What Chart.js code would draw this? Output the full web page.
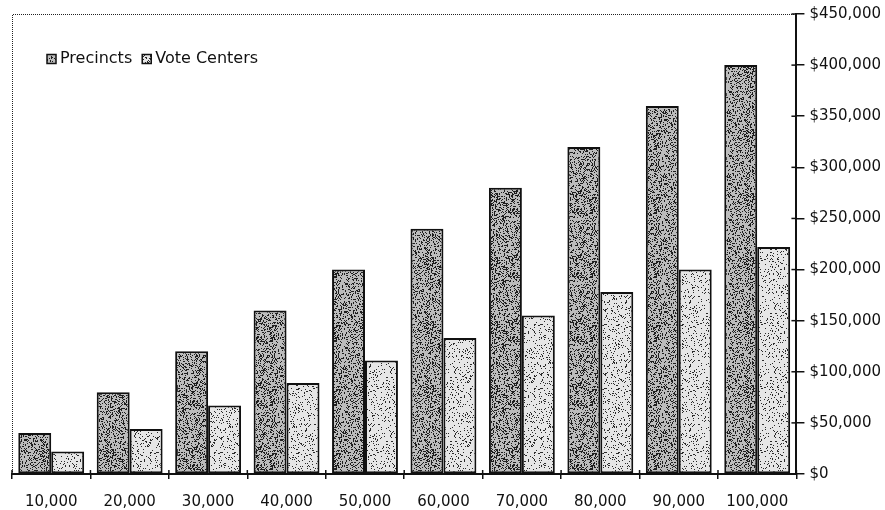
<!DOCTYPE html>
<html>
<head>
<meta charset="utf-8">
<script src="https://cdn.jsdelivr.net/npm/chart.js@4.4.1/dist/chart.umd.min.js"></script>
<style>
  html, body { margin: 0; padding: 0; background: #ffffff; }
</style>
</head>
<body>
<canvas id="chart" width="885" height="510"></canvas>
<script>
// Registered voters per jurisdiction
const categories = ['10,000', '20,000', '30,000', '40,000', '50,000', '60,000', '70,000', '80,000', '90,000', '100,000'];
// Cost in dollars
const precincts = [40000, 80000, 120000, 160000, 200000, 240000, 280000, 320000, 360000, 400000];
const voteCenters = [22000, 44000, 67000, 89000, 111000, 133000, 155000, 178000, 200000, 222000];
const yTickStep = 50000;
const yMax = 450000;

const FONT = { family: '"DejaVu Sans", sans-serif', size: 15 };
const LEGEND_FONT = { family: '"DejaVu Sans", sans-serif', size: 16 };
const INK = '#111111';

// Speckled grey fill, built once as a repeating canvas pattern
function stipple(base, dot, density, seed) {
  const s = 64;
  const cv = document.createElement('canvas');
  cv.width = cv.height = s;
  const g = cv.getContext('2d');
  g.fillStyle = base;
  g.fillRect(0, 0, s, s);
  g.fillStyle = dot;
  for (let y = 0; y < s; y++) {
    for (let x = 0; x < s; x++) {
      const h = Math.abs(Math.sin((x + seed) * 12.9898 + (y + seed * 3) * 78.233) * 43758.5453) % 1;
      if (h < density) g.fillRect(x, y, 1, 1);
    }
  }
  return g.createPattern(cv, 'repeat');
}

// Dotted top/left frame plus the inner halves of the axis tick marks
const framePlugin = {
  id: 'frame',
  afterDraw(chart) {
    const { ctx, chartArea: a, scales } = chart;
    ctx.save();
    ctx.strokeStyle = '#222';
    ctx.lineWidth = 1;
    ctx.setLineDash([1, 1]);
    ctx.beginPath();
    ctx.moveTo(a.left + 0.5, a.bottom);
    ctx.lineTo(a.left + 0.5, a.top + 0.5);
    ctx.lineTo(a.right, a.top + 0.5);
    ctx.stroke();
    ctx.setLineDash([]);
    ctx.strokeStyle = INK;
    ctx.lineWidth = 1.5;
    const ys = scales.y;
    ys.ticks.forEach(t => {
      const y = ys.getPixelForValue(t.value);
      ctx.beginPath();
      ctx.moveTo(a.right - 5, y);
      ctx.lineTo(a.right, y);
      ctx.stroke();
    });
    const xs = scales.x;
    const n = categories.length;
    const step = xs.getPixelForValue(1) - xs.getPixelForValue(0);
    for (let i = 0; i <= n; i++) {
      const x = xs.getPixelForValue(0) - step / 2 + i * step;
      ctx.beginPath();
      ctx.moveTo(x, a.bottom - 4);
      ctx.lineTo(x, a.bottom);
      ctx.stroke();
    }
    ctx.restore();
  }
};

// Single-row legend inside the plot, near its top-left corner
const insetLegend = {
  id: 'insetLegend',
  afterDraw(chart) {
    const { ctx, chartArea: a } = chart;
    let x = a.left + 35;
    const y = a.top + 45;
    ctx.save();
    ctx.font = LEGEND_FONT.size + 'px ' + LEGEND_FONT.family;
    ctx.textBaseline = 'middle';
    ctx.textAlign = 'left';
    chart.data.datasets.forEach(ds => {
      ctx.fillStyle = ds.backgroundColor;
      ctx.fillRect(x, y - 4.5, 9, 9);
      ctx.strokeStyle = INK;
      ctx.lineWidth = 1.5;
      ctx.strokeRect(x, y - 4.5, 9, 9);
      ctx.fillStyle = INK;
      ctx.fillText(ds.label, x + 13, y);
      x += 13 + ctx.measureText(ds.label).width + 10;
    });
    ctx.restore();
  }
};

new Chart(document.getElementById('chart'), {
  type: 'bar',
  data: {
    labels: categories,
    datasets: [
      {
        label: 'Precincts',
        data: precincts,
        backgroundColor: stipple('#bcbcbc', '#1e1e1e', 0.28, 1),
        borderColor: INK,
        borderWidth: 2,
        borderSkipped: false,
        categoryPercentage: 0.84,
        barPercentage: 1
      },
      {
        label: 'Vote Centers',
        data: voteCenters,
        backgroundColor: stipple('#e6e6e6', '#2a2a2a', 0.11, 7),
        borderColor: INK,
        borderWidth: 2,
        borderSkipped: false,
        categoryPercentage: 0.84,
        barPercentage: 1
      }
    ]
  },
  options: {
    responsive: false,
    devicePixelRatio: 1,
    animation: false,
    layout: { padding: { left: 12, top: 12, right: -1, bottom: -15 } },
    plugins: {
      tooltip: { enabled: false },
      legend: { display: false }
    },
    scales: {
      x: {
        offset: true,
        grid: { offset: true, drawOnChartArea: false, tickLength: 5, color: INK, lineWidth: 1.5 },
        border: { display: true, color: INK, width: 2 },
        ticks: { font: FONT, color: INK, padding: 14, maxRotation: 0, autoSkip: false }
      },
      y: {
        position: 'right',
        min: 0,
        max: yMax,
        grid: { drawOnChartArea: false, tickLength: 8, color: INK, lineWidth: 1.5 },
        border: { display: true, color: INK, width: 2 },
        ticks: {
          stepSize: yTickStep,
          font: FONT,
          color: INK,
          padding: 5,
          callback: v => '$' + Number(v).toLocaleString('en-US')
        }
      }
    }
  },
  plugins: [framePlugin, insetLegend]
});
</script>
</body>
</html>
